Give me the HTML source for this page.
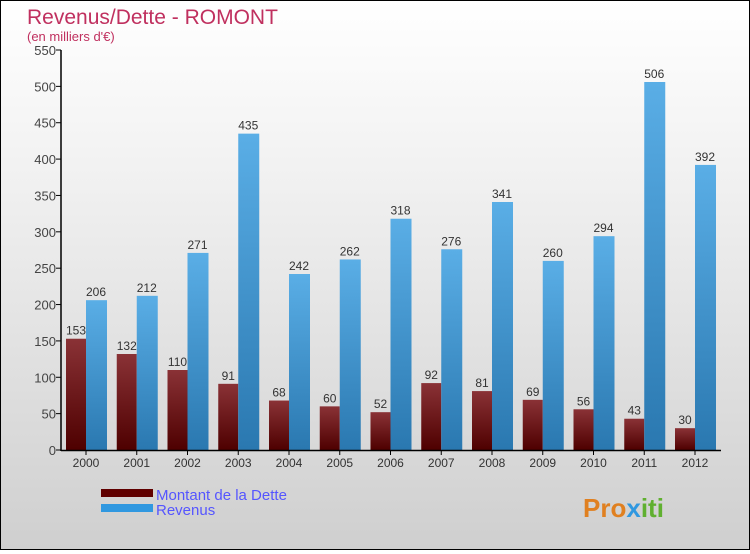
<!DOCTYPE html>
<html><head><meta charset="utf-8"><style>
body{margin:0}
#c{width:748px;height:548px;border:1px solid #000;background:linear-gradient(#fff,#f2f2f2 30%,#cfcfcf);position:relative;font-family:"Liberation Sans",sans-serif}
</style></head><body>
<div id="c">
<svg id="s" width="748" height="548">
<defs>
<linearGradient id="gd" x1="0" y1="0" x2="0" y2="1"><stop offset="0" stop-color="#8a3236"/><stop offset="1" stop-color="#4e0000"/></linearGradient>
<linearGradient id="gr" x1="0" y1="0" x2="0" y2="1"><stop offset="0" stop-color="#5aaee6"/><stop offset="1" stop-color="#2a78b0"/></linearGradient>
</defs>
<text x="26" y="23" font-size="21" fill="#c0305f">Revenus/Dette - ROMONT</text>
<text x="26" y="40" font-size="13" fill="#c0305f">(en milliers d'€)</text>
<g id="g"></g>
<rect x="100" y="488" width="52" height="8" fill="#600000"/>
<text x="155" y="499" font-size="15" fill="#5555ff">Montant de la Dette</text>
<rect x="100" y="503" width="52" height="8" fill="#3098e0"/>
<text x="155" y="514" font-size="15" fill="#5555ff">Revenus</text>
<text x="582" y="516" font-size="26" font-weight="bold" fill="#e08020">Pro<tspan fill="#3098e0">x</tspan><tspan fill="#60b030">iti</tspan></text>
</svg></div>
<script>
const years=["2000","2001","2002","2003","2004","2005","2006","2007","2008","2009","2010","2011","2012"];
const dette=[153,132,110,91,68,60,52,92,81,69,56,43,30];
const revenus=[206,212,271,435,242,262,318,276,341,260,294,506,392];
const yTicks=[0,50,100,150,200,250,300,350,400,450,500,550];
const NS="http://www.w3.org/2000/svg",g=document.getElementById('g');
const y=v=>449-v*400/550, x=i=>85+i*50.75;
function mk(t,a,txt){const e=document.createElementNS(NS,t);for(const k in a)e.setAttribute(k,a[k]);if(txt!=null)e.textContent=txt;g.appendChild(e);return e;}
yTicks.forEach(t=>{
 let l=mk('line',{x1:55,x2:60,y1:y(t),y2:y(t),stroke:'#000'});
 
 
 let tx=mk('text',{x:55,y:y(t)+5,'font-size':13,fill:'#444','text-anchor':'end'},t);
 
 
});
years.forEach((yr,i)=>{
 let c=x(i);
 let b1=mk('rect',{x:c-20,y:y(dette[i]),width:20,height:449-y(dette[i]),fill:'url(#gd)'});
 
 
 let b2=mk('rect',{x:c,y:y(revenus[i]),width:21,height:449-y(revenus[i]),fill:'url(#gr)'});
 
 
 let t1=mk('text',{x:c-10,y:y(dette[i])-4,'font-size':12,fill:'#333','text-anchor':'middle'},dette[i]);
 
 
 let t2=mk('text',{x:c+10,y:y(revenus[i])-4,'font-size':12,fill:'#333','text-anchor':'middle'},revenus[i]);
 
 
 let tk=mk('line',{x1:c,x2:c,y1:449,y2:454,stroke:'#000'});
 
 
 let xl=mk('text',{x:c,y:466,'font-size':12,fill:'#333','text-anchor':'middle'},yr);
 
 
});
let ya=mk('line',{x1:60,x2:60,y1:49,y2:450,stroke:'#000','stroke-width':1.5});


let xa=mk('line',{x1:60,x2:720,y1:449.5,y2:449.5,stroke:'#000','stroke-width':1.5});


</script>
</body></html>
